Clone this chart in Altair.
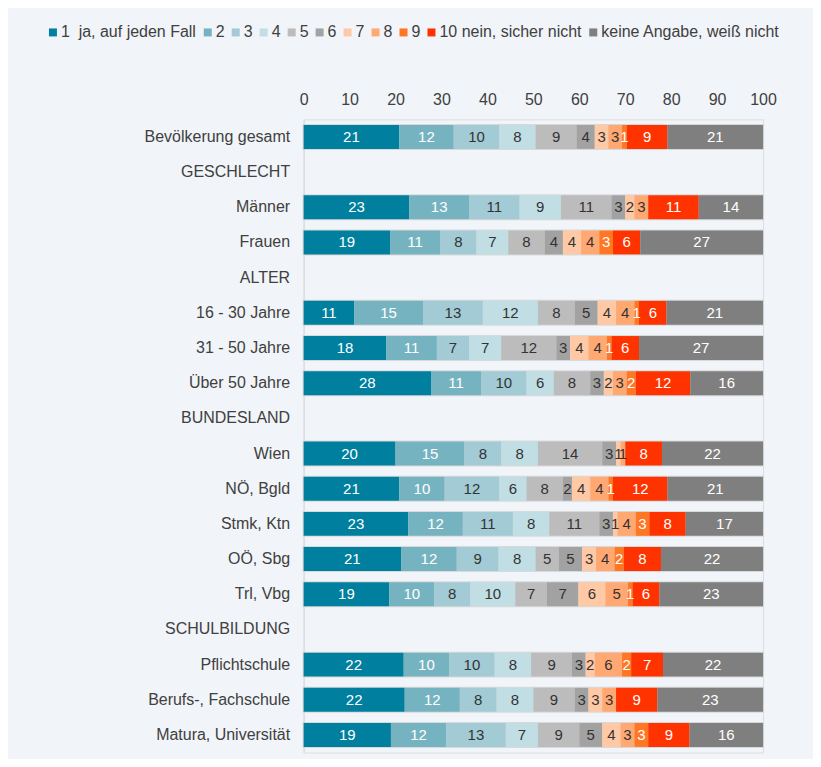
import altair as alt
import pandas as pd

rows = ["Bevölkerung gesamt", "GESCHLECHT", "Männer", "Frauen", "ALTER",
        "16 - 30 Jahre", "31 - 50 Jahre", "Über 50 Jahre", "BUNDESLAND",
        "Wien", "NÖ, Bgld", "Stmk, Ktn", "OÖ, Sbg", "Trl, Vbg",
        "SCHULBILDUNG", "Pflichtschule", "Berufs-, Fachschule", "Matura, Universität"]

cats = ["1\u00a0 ja, auf jeden Fall", "2", "3", "4", "5", "6", "7", "8", "9",
        "10 nein, sicher nicht", "keine Angabe, weiß nicht"]
colors = ["#007f9f", "#76b3c0", "#a2cbd5", "#c0dee4", "#bcbcbc", "#a2a2a2",
          "#ffc9a6", "#ffa872", "#ff7722", "#ff3300", "#7f7f7f"]

bevoelkerung = [21, 12, 10, 8, 9, 4, 3, 3, 1, 9, 21]
maenner = [23, 13, 11, 9, 11, 3, 2, 3, 0, 11, 14]
frauen = [19, 11, 8, 7, 8, 4, 4, 4, 3, 6, 27]
jahre_16_30 = [11, 15, 13, 12, 8, 5, 4, 4, 1, 6, 21]
jahre_31_50 = [18, 11, 7, 7, 12, 3, 4, 4, 1, 6, 27]
jahre_50plus = [28, 11, 10, 6, 8, 3, 2, 3, 2, 12, 16]
wien = [20, 15, 8, 8, 14, 3, 1, 1, 0, 8, 22]
noe_bgld = [21, 10, 12, 6, 8, 2, 4, 4, 1, 12, 21]
stmk_ktn = [23, 12, 11, 8, 11, 3, 1, 4, 3, 8, 17]
ooe_sbg = [21, 12, 9, 8, 5, 5, 3, 4, 2, 8, 22]
trl_vbg = [19, 10, 8, 10, 7, 7, 6, 5, 1, 6, 23]
pflichtschule = [22, 10, 10, 8, 9, 3, 2, 6, 2, 7, 22]
berufsschule = [22, 12, 8, 8, 9, 3, 3, 3, 0, 9, 23]
matura = [19, 12, 13, 7, 9, 5, 4, 3, 3, 9, 16]

series = [
    ("Bevölkerung gesamt", bevoelkerung),
    ("Männer", maenner),
    ("Frauen", frauen),
    ("16 - 30 Jahre", jahre_16_30),
    ("31 - 50 Jahre", jahre_31_50),
    ("Über 50 Jahre", jahre_50plus),
    ("Wien", wien),
    ("NÖ, Bgld", noe_bgld),
    ("Stmk, Ktn", stmk_ktn),
    ("OÖ, Sbg", ooe_sbg),
    ("Trl, Vbg", trl_vbg),
    ("Pflichtschule", pflichtschule),
    ("Berufs-, Fachschule", berufsschule),
    ("Matura, Universität", matura),
]

records = []
for name, vals in series:
    for i, v in enumerate(vals):
        records.append({"row": name, "cat": cats[i], "idx": i, "value": v})
df = pd.DataFrame(records)

FONT = "Liberation Sans"
TXT = "#404040"

yenc = alt.Y("row:N", sort=rows,
             scale=alt.Scale(domain=rows, paddingInner=0.32, paddingOuter=0.16),
             axis=alt.Axis(title=None, ticks=False, domain=True, domainColor="#d9d9d9",
                           labelPadding=14, labelFontSize=16, labelColor=TXT,
                           labelFont=FONT, grid=False))

base = alt.Chart(df).transform_joinaggregate(
    total="sum(value)", groupby=["row"]
).transform_calculate(
    pct="datum.value / datum.total * 100"
).transform_window(
    cum="sum(pct)", groupby=["row"], sort=[alt.SortField("idx", order="ascending")]
).transform_calculate(
    start="datum.cum - datum.pct",
    mid="datum.cum - datum.pct / 2"
)

xscale = alt.Scale(domain=[0, 100], nice=False)

outline = base.mark_bar(color="#d9d9d9", stroke="#d9d9d9", strokeWidth=2).encode(
    x=alt.X("sum(pct):Q", scale=xscale),
    y=yenc,
)

bars = base.mark_bar().encode(
    x=alt.X("start:Q", scale=xscale,
            axis=alt.Axis(orient="top", title=None, values=list(range(0, 101, 10)),
                          ticks=False, domain=False, grid=False, labelPadding=12,
                          labelFlush=False, labelOverlap=False,
                          labelFontSize=16, labelColor=TXT, labelFont=FONT)),
    x2="cum:Q",
    y=yenc,
    color=alt.Color("cat:N", scale=alt.Scale(domain=cats, range=colors),
                    legend=alt.Legend(title=None, orient="none", direction="horizontal",
                                      legendX=-261, legendY=-95,
                                      symbolType="square", symbolSize=64,
                                      symbolOffset=2,
                                      symbolStrokeWidth=0, labelOffset=0,
                                      columnPadding=1, labelFontSize=16,
                                      labelColor=TXT, labelFont=FONT,
                                      labelLimit=400)),
)

text = base.transform_filter("datum.value > 0").mark_text(
    fontSize=15, font=FONT, baseline="middle", align="center"
).encode(
    x=alt.X("mid:Q", scale=xscale),
    y=yenc,
    text=alt.Text("value:Q"),
    color=alt.condition("datum.idx <= 1 || datum.idx >= 8",
                        alt.value("#ffffff"), alt.value("#333333")),
)

chart = alt.layer(outline, bars, text).properties(
    width=460, height=634,
    autosize=alt.AutoSizeParams(type="none"),
    padding={"left": 296, "top": 111, "right": 50, "bottom": 6},
    background="#f1f4f8",
).configure_view(stroke=None).configure(font=FONT)

chart.save("out.html", embed_options={"renderer": "svg", "actions": False})
